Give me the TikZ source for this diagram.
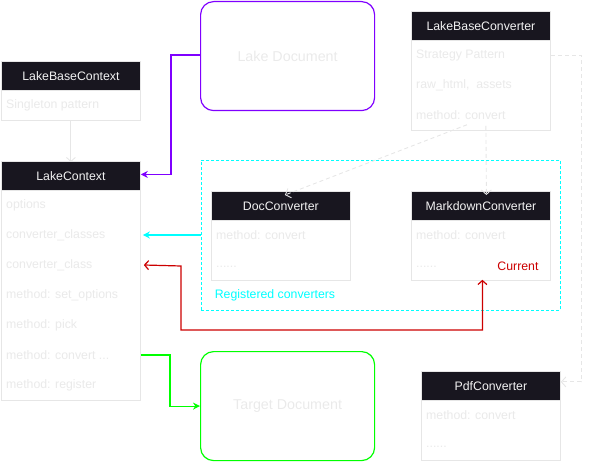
\documentclass[tikz,border=0pt]{standalone}
\usepackage{fontspec}
\setmainfont{Liberation Sans}
\usetikzlibrary{arrows.meta,calc}
\definecolor{hdrfill}{HTML}{18161F}
\definecolor{bordergray}{HTML}{E6E6E6}
\definecolor{rowgray}{HTML}{EAEAEA}
\definecolor{purp}{HTML}{7F00FF}
\definecolor{cyn}{HTML}{00FFFF}
\definecolor{redc}{HTML}{CC0000}
\definecolor{grn}{HTML}{00FF00}
\tikzset{
  hdr/.style={draw=bordergray, fill=hdrfill, text=white!95!black, anchor=north west,
    minimum width=139pt, minimum height=29pt, inner sep=0pt, line width=0.8pt,
    font=\fontsize{12.3}{14}\selectfont},
  bodybox/.style={draw=bordergray, fill=white, anchor=north west,
    minimum width=139pt, inner sep=0pt, line width=0.8pt},
  row/.style={anchor=west, text=rowgray, inner sep=0pt, font=\fontsize{12.3}{14}\selectfont},
  docbox/.style={rounded corners=13pt, line width=1.2pt, anchor=north west,
    minimum width=174pt, minimum height=109pt, text=rowgray, inner sep=0pt,
    font=\fontsize{14.3}{16}\selectfont},
  gdash/.style={draw=bordergray, line width=0.9pt, dash pattern=on 4pt off 3pt,
    -{Straight Barb[length=4.5pt,width=10pt]}},
}
\begin{document}
\begin{tikzpicture}[x=1pt,y=-1pt]
\useasboundingbox (0,0) rectangle (589,462);

% LakeBaseContext
\node[hdr] (lbc_h) at (1,61) {LakeBaseContext};
\node[bodybox, minimum height=30pt] (lbc_b) at (1,90) {};
\node[row] (lbc_r1) at (6,105) {Singleton pattern};

% LakeContext
\node[hdr] (lc_h) at (1,161) {LakeContext};
\node[bodybox, minimum height=210pt] (lc_b) at (1,190) {};
\node[row] (lc_r1) at (6,205) {options};
\node[row] (lc_r2) at (6,235) {converter\_classes};
\node[row] (lc_r3) at (6,265) {converter\_class};
\node[row] (lc_r4) at (6,295) {method: set\_options};
\node[row] (lc_r5) at (6,325) {method: pick};
\node[row] (lc_r6) at (6,355) {method: convert ...};
\node[row] (lc_r7) at (6,385) {method: register};

% Documents
\node[docbox, draw=purp] (lakedoc) at (200,1) {Lake Document};
\node[docbox, draw=grn] (target) at (200,351) {Target Document};

% LakeBaseConverter
\node[hdr] (lbcv_h) at (411,11) {LakeBaseConverter};
\node[bodybox, minimum height=90pt] (lbcv_b) at (411,40) {};
\node[row] (lbcv_r1) at (416,55) {Strategy Pattern};
\node[row] (lbcv_r2) at (416,85) {raw\_html, \ assets};
\node[row] (lbcv_r3) at (416,115) {method: convert};

% Registered converters region
\node[draw=cyn, dash pattern=on 3pt off 2pt, line width=0.8pt, anchor=north west,
  minimum width=359pt, minimum height=150pt, inner sep=0pt] (reg) at (201,160) {};
\node[text=cyn, anchor=center, inner sep=0pt, font=\fontsize{12.3}{14}\selectfont] (reglbl) at (275,295) {Registered converters};

% DocConverter
\node[hdr] (doc_h) at (211,191) {DocConverter};
\node[bodybox, minimum height=60pt] (doc_b) at (211,220) {};
\node[row] (doc_r1) at (216,235) {method: convert};
\node[row] (doc_r2) at (216,267) {......};

% MarkdownConverter
\node[hdr] (md_h) at (411,191) {MarkdownConverter};
\node[bodybox, minimum height=60pt] (md_b) at (411,220) {};
\node[row] (md_r1) at (416,235) {method: convert};
\node[row] (md_r2) at (416,267) {......};
\node[text=redc, anchor=center, inner sep=0pt, font=\fontsize{12.3}{14}\selectfont] (cur) at (518,266) {Current};

% PdfConverter
\node[hdr] (pdf_h) at (421,371) {PdfConverter};
\node[bodybox, minimum height=60pt] (pdf_b) at (421,400) {};
\node[row] (pdf_r1) at (426,415) {method: convert};
\node[row] (pdf_r2) at (426,447) {......};

% connectors
\draw[draw=bordergray, line width=0.9pt, -{Straight Barb[length=4pt,width=9pt]}] (lbc_b.south) -- ([yshift=-1pt]lc_h.north);

\draw[purp, line width=1.2pt, -{Stealth[length=7pt,width=7pt]}]
  (lakedoc.west |- lbcv_r1.west) -- (171,55) |- ([yshift=1.5pt]lc_h.east);

\draw[cyn, line width=1.2pt, -{Stealth[length=7pt,width=7pt]}]
  (reg.west |- lc_r2.west) -- ([xshift=2pt]lc_b.east |- lc_r2.west);

\draw[redc, line width=1.2pt, {Straight Barb[length=4pt,width=9pt]}-{Straight Barb[length=4pt,width=9pt]}]
  ([xshift=3pt]lc_b.east |- lc_r3.west) -- (181,266) -- (181,330) -| ([xshift=1.5pt,yshift=1pt]md_b.south);

\draw[grn, line width=1.2pt, -{Stealth[length=7pt,width=7pt]}]
  (lc_b.east |- lc_r6.west) -- (170,355) |- (target.west);

\draw[gdash] ([xshift=5pt,yshift=5pt]lbcv_b.south) -- ([xshift=5.5pt,yshift=-4pt]md_h.north);
\draw[gdash] ([xshift=-14pt,yshift=6pt]lbcv_b.south) -- ([xshift=4pt,yshift=-4pt]doc_h.north);
\draw[gdash] (lbcv_b.east |- lbcv_r1.west) -- (581,55) |- ([yshift=4pt]pdf_h.east);
\end{tikzpicture}
\end{document}
